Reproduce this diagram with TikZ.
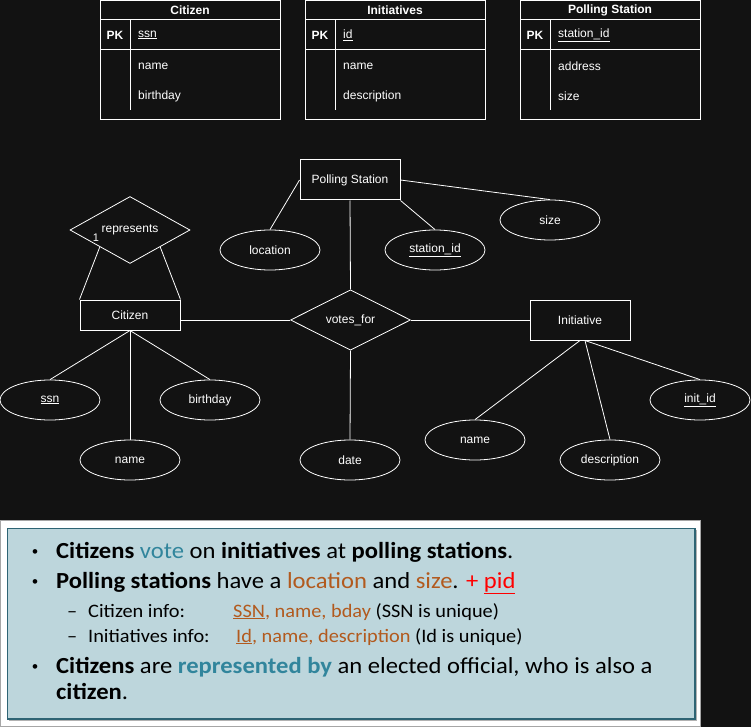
\documentclass[tikz,border=0pt]{standalone}
\usepackage{fontspec}
\setmainfont{Liberation Sans}
\newfontfamily\calib[FakeStretch=1.07]{Carlito}
\newfontfamily\bulletfont{Liberation Sans}
\usetikzlibrary{shapes.geometric,calc}
\definecolor{bg}{HTML}{121212}
\definecolor{boxfill}{HTML}{BDD6DC}
\definecolor{boxline}{HTML}{2E6474}
\definecolor{teal}{HTML}{31859C}
\definecolor{orng}{HTML}{B25A1E}
\newcommand{\ertable}[6]{%
  \draw[tline] (#1,0.5) rectangle ++(180,119.5);
  \draw[tline] (#1,20) -- ++(180,0);
  \draw[tline] (#1,50) -- ++(180,0);
  \draw[tline] (#1+30,20) -- (#1+30,110);
  \node[tbltitle] (#2title) at (#1+90,10) {#3};
  \node[tblpk] (#2pk) at (#1+15,35) {PK};
  \node[tblattr] (#2key) at (#1+38,35) {\underline{#4}};
  \node[tblattr] (#2a) at (#1+38,66) {#5};
  \node[tblattr] (#2b) at (#1+38,96) {#6};
}
\begin{document}
\begin{tikzpicture}[x=1pt,y=-1pt,
  tline/.style={draw=white,line width=1pt},
  tbltitle/.style={text=white,font=\fontsize{12}{14}\selectfont\bfseries,inner sep=0},
  tblpk/.style={text=white,font=\fontsize{12}{14}\selectfont\bfseries,inner sep=0},
  tblattr/.style={text=white,font=\fontsize{12}{14}\selectfont,anchor=west,inner sep=0},
  ent/.style={draw=white,line width=1pt,text=white,font=\fontsize{12}{14}\selectfont,minimum width=100pt,minimum height=40pt,inner sep=0},
  attr/.style={ellipse,draw=white,line width=0.8pt,text=white,font=\fontsize{12}{14}\selectfont,minimum width=100pt,minimum height=40pt,inner sep=0},
  rel/.style={diamond,draw=white,line width=0.8pt,text=white,font=\fontsize{12}{14}\selectfont,minimum width=120pt,minimum height=60pt,inner sep=0},
  conn/.style={draw=white,line width=0.8pt},
  bt/.style={anchor=base west,inner sep=0,font=\calib\fontsize{23}{27}\selectfont},
  bul/.style={anchor=base,inner sep=0,font=\bulletfont\fontsize{17}{20}\selectfont},
  st/.style={anchor=base west,inner sep=0,font=\calib\fontsize{19}{23}\selectfont}
]
\useasboundingbox (0,0) rectangle (751,727);
\fill[bg] (0,0) rectangle (751,727);

% tables
\ertable{100}{ct}{Citizen}{ssn}{name}{birthday}
\ertable{305}{it}{Initiatives}{id}{name}{description}
\ertable{520}{pt}{Polling Station}{station\_id}{address}{size}

% ER diagram
\node[ent] (ps) at (350,180) {Polling Station};
\node[ent,minimum height=30pt] (cit) at (130,315) {Citizen};
\node[ent] (ini) at (580,320) {Initiative};
\node[rel] (rep) at (130,230) {represents};
\node[rel] (vf) at (350.5,320) {votes\_for};
\node[attr] (loc) at (270,250) {location};
\node[attr] (sid) at (435,250) {\underline{station\_id}};
\node[attr] (size) at (550,220) {size};
\node[attr] (ssn) at (50,400) {\underline{ssn}};
\node[attr] (bday) at (210,400) {birthday};
\node[attr] (cname) at (130,460) {name};
\node[attr] (date) at (350,460) {date};
\node[attr] (iname) at (475,440) {name};
\node[attr] (desc) at (610,460) {description};
\node[attr] (iid) at (700,400) {\underline{init\_id}};
\node[text=white,font=\fontsize{11}{12}\selectfont,inner sep=0] (one) at (96,238) {1};

\draw[conn] (ps.south) -- (vf.north);
\draw[conn] (ps.west) -- (loc.north);
\draw[conn] (ps.south east) -- (sid.north);
\draw[conn] (ps.east) -- (size.north);
\draw[conn] ($(rep.west)!0.5!(rep.south)$) -- (cit.north west);
\draw[conn] ($(rep.south)!0.5!(rep.east)$) -- (cit.north east);
\draw[conn] (vf.west -| cit.east) -- (vf.west);
\draw[conn] (vf.east) -- (ini.west);
\draw[conn] (cit.south) -- (ssn.north);
\draw[conn] (cit.south) -- (bday.north);
\draw[conn] (cit.south) -- (cname.north);
\draw[conn] (vf.south) -- (date.north);
\draw[conn] (ini.south) -- (iname.north);
\draw[conn] ([xshift=5pt]ini.south) -- (desc.north);
\draw[conn] ([xshift=5pt]ini.south) -- (iid.north);

% text box
\draw[fill=white,draw=gray!70,line width=1pt] (0.5,520.5) rectangle (700,726.5);
\fill[gray!60] (9,530) rectangle (697,721);
\draw[fill=boxfill,draw=boxline,line width=1.5pt] (7.5,528.5) rectangle (695,719);

\node[bul] (b1) at (35,557) {•};
\node[bt] (l1) at (56,558) {\textbf{Citizens} \textcolor{teal}{vote} on \textbf{initiatives} at \textbf{polling stations}.};
\node[bul] (b2) at (35,587) {•};
\node[bt] (l2) at (56,588) {\textbf{Polling stations} have a \textcolor{orng}{location} and \textcolor{orng}{size}. \textcolor{red}{+ \underline{pid}}};
\node[st] (d1) at (67,617) {–};
\node[st] (s1) at (88,617) {Citizen info:};
\node[st] (s1b) at (233,617) {\textcolor{orng}{\underline{SSN}, name, bday} (SSN is unique)};
\node[st] (d2) at (67,642) {–};
\node[st] (s2) at (88,642) {Initiatives info:};
\node[st] (s2b) at (236,642) {\textcolor{orng}{\underline{Id}, name, description} (Id is unique)};
\node[bul] (b3) at (35,672) {•};
\node[bt] (l5) at (56,673) {\textbf{Citizens} are \textcolor{teal}{\textbf{represented by}} an elected official, who is also a};
\node[bt] (l6) at (56,699) {\textbf{citizen}.};
\end{tikzpicture}
\end{document}
